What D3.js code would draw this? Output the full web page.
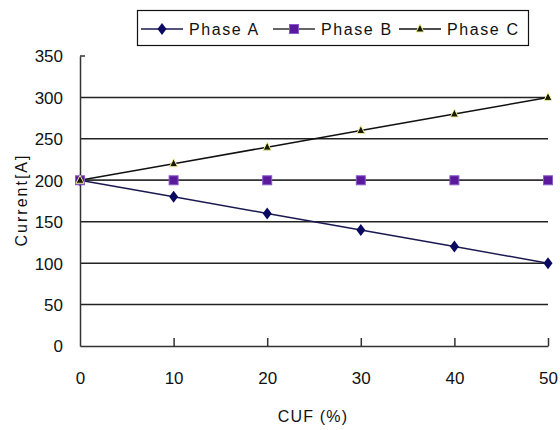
<!DOCTYPE html>
<html>
<head>
<meta charset="utf-8">
<script src="https://cdnjs.cloudflare.com/ajax/libs/d3/7.8.5/d3.min.js"></script>
<style>
  body { margin: 0; background: #fff; }
  text { font-family: "Liberation Sans", Arial, sans-serif; fill: #111; }
</style>
</head>
<body>
<svg id="chart" width="560" height="430"></svg>
<script>
// data
var cuf = [0, 10, 20, 30, 40, 50];
var phaseA = [200, 180, 160, 140, 120, 100];
var phaseB = [200, 200, 200, 200, 200, 200];
var phaseC = [200, 220, 240, 260, 280, 300];
var yTicks = [0, 50, 100, 150, 200, 250, 300, 350];
var xTicks = [0, 10, 20, 30, 40, 50];
var seriesNames = ["Phase A", "Phase B", "Phase C"];

var svg = d3.select("#chart");

var x = d3.scaleLinear().domain([0, 50]).range([80, 548]);
var y = d3.scaleLinear().domain([0, 350]).range([346, 56]);

// gridlines (no line at 350)
svg.append("g").selectAll("line")
  .data(yTicks.filter(function(d) { return d > 0 && d < 350; }))
  .enter().append("line")
  .attr("x1", x(0)).attr("x2", x(50))
  .attr("y1", function(d) { return y(d); })
  .attr("y2", function(d) { return y(d); })
  .attr("stroke", "#222").attr("stroke-width", 1.5);

// y axis
var yAxis = svg.append("g")
  .attr("transform", "translate(" + x(0) + ",0)")
  .call(d3.axisLeft(y).tickValues(yTicks).tickSize(0).tickPadding(17));
yAxis.select(".domain").attr("stroke", "#333").attr("stroke-width", 1.5);
yAxis.selectAll("text").style("font-size", "17px")
  .attr("fill", "#111").attr("dy", "0.35em");
svg.append("line").attr("x1", x(0)).attr("x2", x(0) + 5)
  .attr("y1", y(350)).attr("y2", y(350)).attr("stroke", "#333").attr("stroke-width", 1.5);

// x axis, ticks pointing up
var xAxis = svg.append("g")
  .attr("transform", "translate(0," + y(0) + ")")
  .call(d3.axisBottom(x).tickValues(xTicks).tickSizeInner(-8).tickSizeOuter(0).tickPadding(26));
xAxis.select(".domain").attr("stroke", "#333").attr("stroke-width", 1.5);
xAxis.selectAll(".tick line").attr("stroke", "#333").attr("stroke-width", 1.5);
xAxis.selectAll(".tick").filter(function(d) { return d === 0; }).select("line").remove();
xAxis.selectAll("text").style("font-size", "17px")
  .attr("fill", "#111");

// axis titles
svg.append("text").attr("x", 313).attr("y", 422)
  .attr("text-anchor", "middle").style("font-size", "16px").style("letter-spacing", "1.2px")
  .text("CUF (%)");
svg.append("text").attr("transform", "translate(27,200) rotate(-90)")
  .attr("text-anchor", "middle").style("font-size", "16px").style("letter-spacing", "2px")
  .text("Current[A]");

var line = d3.line()
  .x(function(d, i) { return x(cuf[i]); })
  .y(function(d) { return y(d); });

var series = [
  { name: seriesNames[0], values: phaseA, stroke: "#1a1a50", marker: "diamond", fill: "#0a0a60" },
  { name: seriesNames[1], values: phaseB, stroke: "#333", marker: "square", fill: "#5b1a9c" },
  { name: seriesNames[2], values: phaseC, stroke: "#111", marker: "triangle", fill: "#1a1a00" }
];

function drawMarker(g, type, cx, cy, fill) {
  if (type === "diamond") {
    g.append("path")
      .attr("d", "M" + cx + "," + (cy - 6) + "L" + (cx + 4.5) + "," + cy + "L" + cx + "," + (cy + 6) + "L" + (cx - 4.5) + "," + cy + "Z")
      .attr("fill", fill);
  } else if (type === "square") {
    g.append("rect").attr("x", cx - 4.5).attr("y", cy - 4.5).attr("width", 9).attr("height", 9)
      .attr("fill", fill).attr("stroke", "#8a5ac8").attr("stroke-width", 1);
  } else {
    g.append("path")
      .attr("d", "M" + cx + "," + (cy - 5) + "L" + (cx + 4) + "," + (cy + 3) + "L" + (cx - 4) + "," + (cy + 3) + "Z")
      .attr("fill", fill).attr("stroke", "#f0f0a0").attr("stroke-width", 1);
  }
}

series.forEach(function(s) {
  svg.append("path").datum(s.values)
    .attr("d", line).attr("fill", "none")
    .attr("stroke", s.stroke).attr("stroke-width", 1.5);
});
series.forEach(function(s) {
  var g = svg.append("g");
  s.values.forEach(function(v, i) {
    drawMarker(g, s.marker, x(cuf[i]), y(v), s.fill);
  });
});

// legend
svg.append("rect").attr("x", 137.5).attr("y", 10.5).attr("width", 391).attr("height", 35)
  .attr("fill", "#fff").attr("stroke", "#111").attr("stroke-width", 1.2);
var legX = [141, 273, 399];
series.forEach(function(s, i) {
  var g = svg.append("g");
  g.append("line").attr("x1", legX[i]).attr("x2", legX[i] + 42).attr("y1", 29).attr("y2", 29)
    .attr("stroke", s.stroke).attr("stroke-width", 1.5);
  drawMarker(g, s.marker, legX[i] + 21, 29, s.fill);
  g.append("text").attr("x", legX[i] + 48).attr("y", 35)
    .style("font-size", "16px").style("letter-spacing", "1.6px")
    .text(s.name);
});
</script>
</body>
</html>
